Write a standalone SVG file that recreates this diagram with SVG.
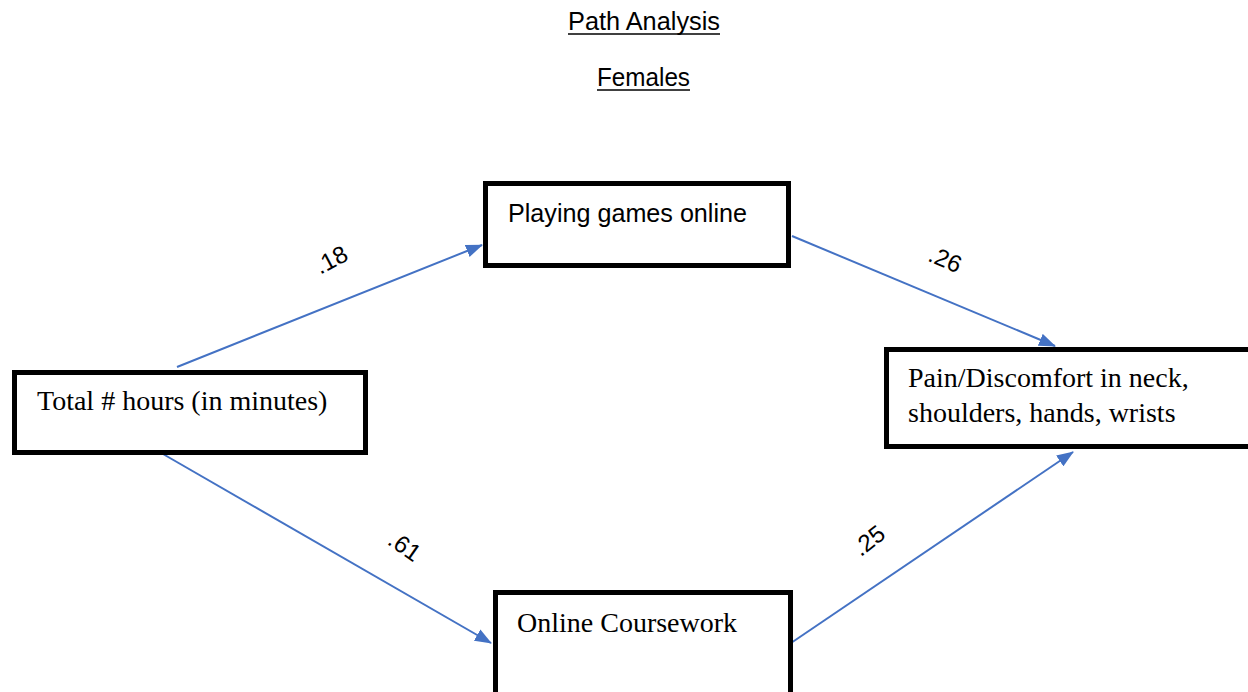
<svg xmlns="http://www.w3.org/2000/svg" width="1248" height="692" viewBox="0 0 1248 692">
<style>
.box{fill:#fff;stroke:#000;stroke-width:5}
.serif{font-family:"Liberation Serif","Times New Roman",serif;font-size:28px;fill:#000}
.sans{font-family:"Liberation Sans",Arial,sans-serif;fill:#000}
.conn{stroke:#4472C4;stroke-width:2;fill:none}
.lbl{font-family:"Liberation Sans",Arial,sans-serif;font-size:24px;fill:#000;text-anchor:middle}
.ul{stroke:#000;stroke-width:1.5}
</style>
<defs>
<marker id="ah" markerUnits="userSpaceOnUse" markerWidth="17" markerHeight="13" refX="16" refY="6.5" orient="auto">
<path d="M0,0 L17,6.5 L0,13 Z" fill="#4472C4"/>
</marker>
</defs>
<g id="title">
<text class="sans" x="568" y="30" font-size="26" textLength="152" lengthAdjust="spacingAndGlyphs">Path Analysis</text>
<line class="ul" x1="568" y1="34" x2="720" y2="34"/>
<text class="sans" x="597" y="86" font-size="26" textLength="93" lengthAdjust="spacingAndGlyphs">Females</text>
<line class="ul" x1="597" y1="90" x2="690" y2="90"/>
</g>
<g id="connectors">
<line class="conn" x1="177" y1="367" x2="482" y2="245" marker-end="url(#ah)"/>
<line class="conn" x1="792" y1="236" x2="1055" y2="346" marker-end="url(#ah)"/>
<line class="conn" x1="163" y1="454" x2="491" y2="643" marker-end="url(#ah)"/>
<line class="conn" x1="791" y1="643" x2="1073" y2="452" marker-end="url(#ah)"/>
<text class="lbl" transform="translate(335,267) rotate(-28)">.18</text>
<text class="lbl" transform="translate(942,267) rotate(23)">.26</text>
<text class="lbl" transform="translate(400,553) rotate(35)">.61</text>
<text class="lbl" transform="translate(874,547) rotate(-38)">.25</text>
</g>
<g id="node-total">
<rect class="box" x="14.5" y="372.5" width="351" height="80"/>
<text class="serif" x="37" y="410">Total # hours (in minutes)</text>
</g>
<g id="node-playing">
<rect class="box" x="485.5" y="183.5" width="303" height="82"/>
<text class="sans" x="508" y="222" font-size="25" textLength="239" lengthAdjust="spacingAndGlyphs">Playing games online</text>
</g>
<g id="node-pain">
<rect class="box" x="886.5" y="349.5" width="400" height="97"/>
<text class="serif" x="908" y="387">Pain/Discomfort in neck,</text>
<text class="serif" x="908" y="422">shoulders, hands, wrists</text>
</g>
<g id="node-online">
<rect class="box" x="495.5" y="592.5" width="295" height="120"/>
<text class="serif" x="517" y="632">Online Coursework</text>
</g>
</svg>
